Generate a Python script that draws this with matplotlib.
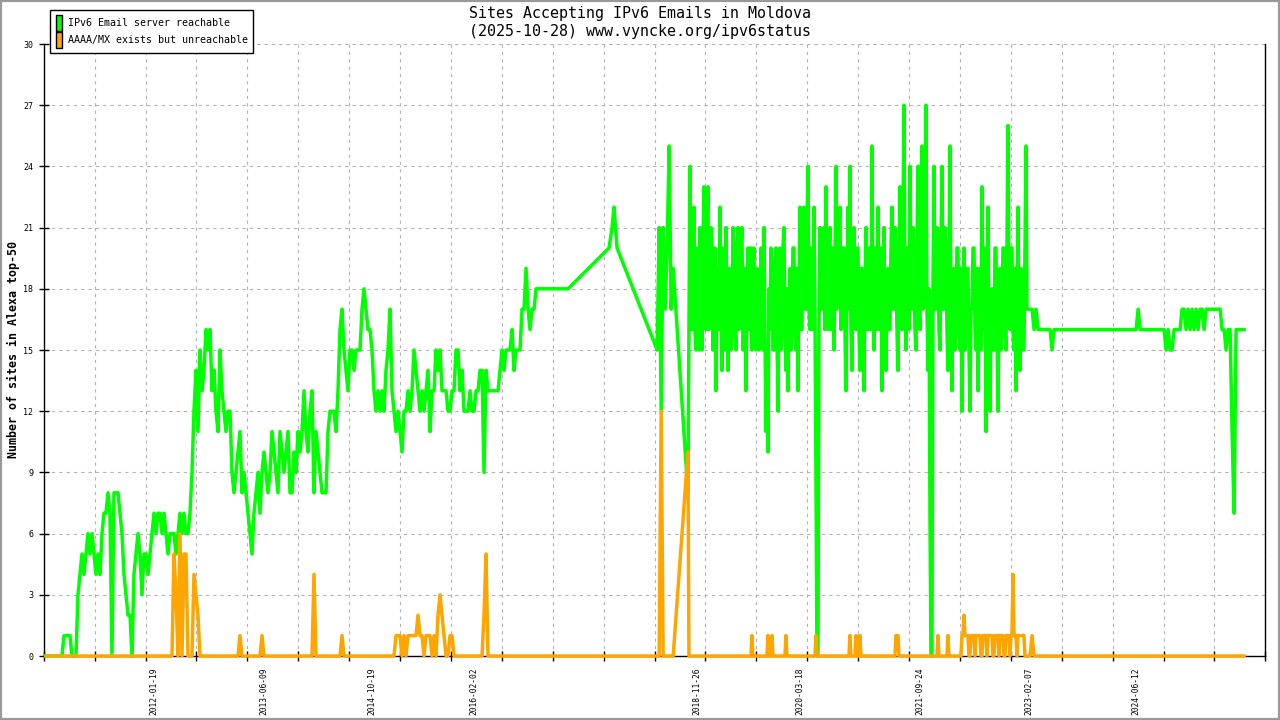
import matplotlib
matplotlib.use('Agg')
import matplotlib.pyplot as plt
import matplotlib.dates as mdates
from matplotlib.patches import Patch, Rectangle
import numpy as np
import pandas as pd

plt.rcParams['font.family'] = ['DejaVu Sans Mono']

# readings are roughly every 9.2 days (daily-ish during 2018-2023)
STEP_DAYS = 9.2256

# --- first stretch: 2010-09 .. 2016-08
seg1_start = '2010-09-09'
green_1 = [
    0, 0, 0, 0, 0, 0, 0, 0, 0, 1, 1, 1, 1, 0, 0, 0,
    3, 4, 5, 4, 5, 6, 5, 6, 5, 4, 5, 4, 6, 7, 7, 8, 7, 0,
    8, 8, 8, 7, 6, 4, 3, 2, 2, 0, 4,
    5, 6, 5, 3, 5, 5, 4, 5, 6, 7, 6, 7, 7, 6, 7, 6, 5, 6,
    6, 6, 5, 6, 7, 6, 7, 6, 6, 7, 9, 12,
    14, 11, 15, 13, 14, 16, 15, 16, 13, 14, 12, 11, 15, 13, 12,
    11, 12, 12, 9, 8, 9, 10, 11, 8, 9, 8, 7, 6, 5, 7,
    8, 9, 7, 9, 10, 9, 8, 9, 11, 10, 9, 8, 11, 10, 9,
    10, 11, 8, 8, 10, 9, 11, 10, 11, 13, 11, 10, 12, 13, 8,
    11, 10, 9, 8, 8, 8, 11, 12, 12, 12, 11, 13,
    16, 17, 15, 14, 13, 15, 15, 14, 15, 15, 15, 17, 18, 17, 16,
    16, 15, 13, 12, 13, 12, 13, 12, 14, 15, 17, 13, 12, 11, 12,
    11, 10, 12, 12, 13, 12, 13, 15, 14, 13, 12, 13, 12, 13, 14,
    11, 13, 13, 15, 14, 15, 13, 13, 13, 12, 12, 13, 13, 15, 15,
    13, 14, 12, 12, 12, 13, 12, 12, 13, 13, 14, 14, 9, 14, 13,
    13, 13, 13, 13, 13, 14, 15, 14, 15, 15, 15, 16, 14, 15, 15,
    15, 17, 17, 19, 17, 16, 17, 17, 18,
    18, 18, 18, 18, 18, 18, 18, 18, 18, 18, 18, 18, 18, 18, 18, 18,
]
orange_1 = ([0] * 64 + [5, 3, 0, 6, 0, 5, 5, 0, 0, 0, 4, 3, 2]
            + [0] * 20 + [1] + [0] * 10 + [1] + [0] * 25 + [4] + [0] * 13 + [1] + [0] * 26
            + [1, 1, 1, 0, 1, 0, 1, 1, 1, 1, 1, 2, 1, 1, 0, 1, 1, 1, 0, 1, 0, 2, 3, 2, 1, 0, 0, 1, 1]
            + [0] * 15 + [2, 5] + [0] * 41)

# --- sparse readings 2017
gap_dates = ['2017-10-19', '2017-11-02', '2017-11-11', '2017-11-25']
green_gap = [20, 21, 22, 20]
orange_gap = [0, 0, 0, 0]

# --- 2018 short stretch
seg2_start = '2018-05-29'
green_2 = [15, 21, 12, 21, 17, 20, 25, 17, 19]
orange_2 = [0, 0, 12, 0, 0, 0, 0, 0, 0]

# --- 2018-10 .. 2023-02, dense readings
seg3_start = '2018-10-18'
green_3 = [
    8, 16, 24, 17, 16, 20, 22, 16, 15, 20, 19, 15, 21, 17, 15, 20, 23, 17, 16, 21,
    23, 16, 17, 21, 20, 15, 16, 20, 13, 18, 19, 16, 22, 17, 14, 20, 18, 15, 21, 17,
    14, 19, 19, 15, 16, 21, 20, 16, 15, 20, 21, 16, 17, 20, 21, 15, 16, 19, 13, 17,
    20, 16, 18, 20, 15, 19, 20, 16, 15, 19, 18, 15, 16, 20, 19, 15, 21, 16, 11, 15,
    10, 18, 16, 20, 19, 15, 15, 19, 20, 16, 12, 18, 20, 15, 16, 20, 21, 16, 14, 18,
    13, 17, 19, 15, 16, 20, 20, 16, 15, 19, 13, 18, 22, 16, 16, 21, 22, 17, 17, 21,
    24, 17, 16, 20, 18, 16, 22, 17, 9, 0, 0, 16, 21, 17, 17, 20, 21, 16, 23, 17,
    16, 20, 21, 16, 17, 20, 15, 19, 24, 17, 18, 21, 22, 16, 17, 20, 20, 16, 13, 18,
    22, 17, 24, 16, 14, 19, 21, 17, 16, 20, 20, 16, 14, 19, 19, 16, 13, 18, 21, 16,
    16, 20, 20, 16, 25, 17, 15, 20, 19, 16, 22, 17, 16, 20, 13, 18, 21, 16, 14, 18,
    19, 16, 16, 20, 22, 17, 17, 21, 20, 16, 14, 19, 23, 17, 16, 21, 27, 17, 15, 20,
    20, 16, 24, 18, 17, 21, 19, 16, 15, 20, 24, 17, 16, 21, 25, 17, 18, 21, 27, 17,
    14, 18, 7, 0, 0, 18, 24, 17, 17, 21, 20, 16, 15, 20, 24, 17, 17, 21, 20, 16,
    14, 19, 25, 17, 13, 18, 19, 15, 16, 20, 20, 16, 15, 19, 12, 17, 20, 15, 16, 19,
    19, 15, 12, 17, 17, 20, 20, 16, 15, 19, 13, 17, 19, 15, 23, 17, 16, 20, 11, 17,
    22, 16, 12, 17, 18, 15, 15, 20, 20, 16, 12, 17, 19, 15, 16, 20, 20, 16, 15, 20,
    26, 17, 16, 20, 20, 16, 15, 19, 13, 18, 22, 16, 14, 19, 18, 15, 15, 20, 25, 17,
    17,
]
orange_3 = ([10] + [0] * 63 + [1] + [0] * 15 + [1, 0, 0, 0, 1] + [0] * 13 + [1] + [0] * 29
            + [1] + [0] * 33 + [1, 0, 0, 0, 0, 0, 1, 0, 0, 0, 1] + [0] * 35 + [1, 1, 1]
            + [0] * 39 + [1] + [0] * 9 + [1] + [0] * 13
            + [1, 1, 2, 1, 1, 1, 1, 0, 0, 1, 1, 1, 1, 0, 1, 1, 1, 1, 1, 0,
               0, 1, 1, 1, 1, 0, 1, 1, 1, 1, 1, 0, 0, 1, 1, 1, 1, 0, 1, 1,
               1, 1, 0, 0, 1, 1, 1, 1, 0, 1, 1, 4, 1, 1, 1, 0, 1, 1, 1, 1,
               1, 1, 1, 0, 0, 0, 0])

# --- 2023-02 .. 2025-10
seg4_start = '2023-02-12'
green_4 = [
    17, 17, 16, 17, 16, 16, 16, 16, 16, 16, 16, 15,
    16, 16, 16, 16, 16, 16, 16, 16, 16, 16, 16, 16, 16, 16,
    16, 16, 16, 16, 16, 16, 16, 16, 16, 16, 16, 16, 16, 16,
    16, 16, 16, 16, 16, 16, 16, 16, 16, 16, 16, 16, 16, 16,
    17, 16, 16, 16, 16, 16, 16, 16, 16, 16, 16, 16, 16, 16,
    15, 16, 15, 15, 16, 16, 16, 16,
    17, 17, 16, 17, 16, 17, 16, 17, 16, 17, 17, 16,
    17, 17, 17, 17, 17, 17, 17, 17,
    16, 16, 15, 16, 16, 11, 7, 16, 16, 16, 16, 16,
]
orange_4 = [0, 1] + [0] * 106

label_dates = ['2012-01-19', '2013-06-09', '2014-10-19', '2016-02-02', '2018-11-26',
               '2020-03-18', '2021-09-24', '2023-02-07', '2024-06-12']

title = 'Sites Accepting IPv6 Emails in Moldova\n(2025-10-28) www.vyncke.org/ipv6status'
green_label = 'IPv6 Email server reachable'
orange_label = 'AAAA/MX exists but unreachable'


def run(start, n, step=STEP_DAYS):
    return mdates.date2num(pd.Timestamp(start)) + np.arange(n) * step


x = np.concatenate([run(seg1_start, len(green_1)),
                    mdates.date2num(pd.to_datetime(gap_dates).to_pydatetime()),
                    run(seg2_start, len(green_2)),
                    run(seg3_start, len(green_3), STEP_DAYS / 2),
                    run(seg4_start, len(green_4))])
green = np.array(green_1 + green_gap + green_2 + green_3 + green_4)
orange = np.array(orange_1 + orange_gap + orange_2 + orange_3 + orange_4)

fig = plt.figure(figsize=(12.8, 7.2), dpi=100)
ax = fig.add_axes([43.8 / 1280, 64 / 720, 1221.5 / 1280, 612 / 720])

ax.plot(x, green, color='#00ff00', lw=2.5, zorder=3, clip_on=False)
ax.plot(x, orange, color='#ffa500', lw=2.5, zorder=4, clip_on=False)

x0 = mdates.date2num(pd.Timestamp('2010-08-30'))
x1 = mdates.date2num(pd.Timestamp('2026-02-01'))
ax.set_xlim(x0, x1)
ax.set_ylim(0, 30)

ax.set_xticks(np.linspace(x0, x1, 25))
ax.set_xticklabels([])
ax.set_xticks(mdates.date2num(pd.to_datetime(label_dates).to_pydatetime()), minor=True)
ax.set_xticklabels(label_dates, minor=True, rotation=90, fontsize=5.7)
ax.set_yticks(range(0, 31, 3))
ax.set_yticklabels([str(v) for v in range(0, 31, 3)], fontsize=6)

ax.tick_params(axis='both', which='major', direction='inout', length=7.5, width=1, pad=4)
ax.tick_params(axis='x', which='minor', length=0, pad=8)
ax.grid(which='major', color='#b4b4b4', linestyle=(0, (3, 3.6)), lw=0.8)
ax.set_axisbelow(True)

ax.spines['top'].set_visible(False)
for s in ['left', 'bottom', 'right']:
    ax.spines[s].set_color('black')
    ax.spines[s].set_linewidth(1)

fig.text(0.5, 1 - 22.5 / 720, title, ha='center', va='center', fontsize=10.8, linespacing=1.3)
fig.text(13 / 1280, 1 - 349 / 720, 'Number of sites in Alexa top-50', rotation=90,
         ha='center', va='center', fontsize=8.4, fontweight='bold')

handles = [Patch(facecolor='#00ff00', edgecolor='black', lw=1),
           Patch(facecolor='#ffa500', edgecolor='black', lw=1)]
leg = fig.legend(handles, [green_label, orange_label], loc='upper left',
                 bbox_to_anchor=(50 / 1280, 1 - 10 / 720), bbox_transform=fig.transFigure,
                 fontsize=7.2, frameon=True, fancybox=False, framealpha=1,
                 edgecolor='black', handlelength=0.6, handleheight=2.0,
                 handletextpad=0.6, labelspacing=0.12, borderpad=0.55, borderaxespad=0)
leg.get_frame().set_linewidth(1)

fig.add_artist(Rectangle((0, 0), 1, 1, transform=fig.transFigure, fill=False,
                         edgecolor='#999999', lw=3))

fig.savefig('out.png', dpi=100)
